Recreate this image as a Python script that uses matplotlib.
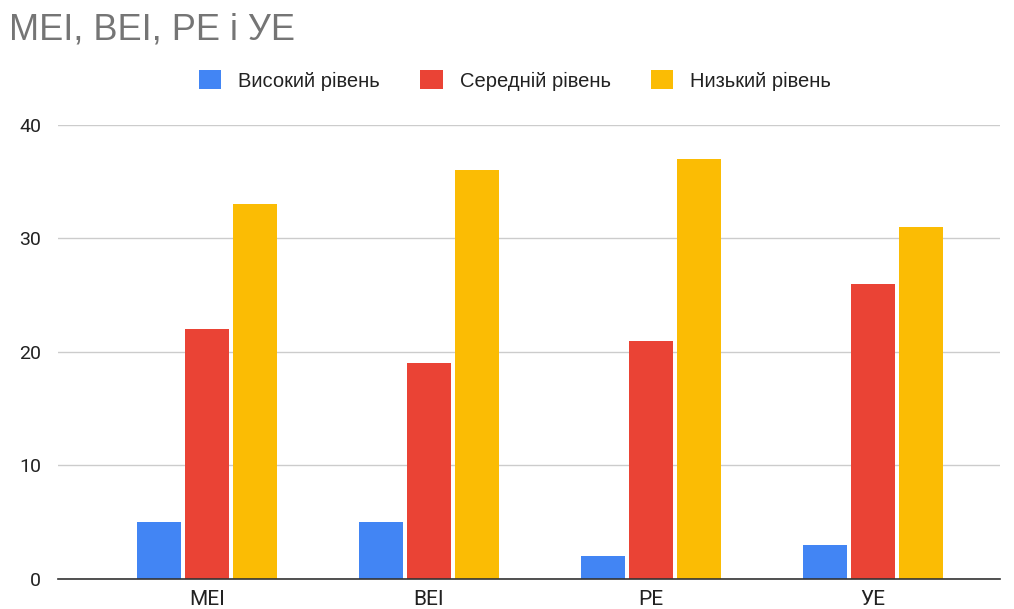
import matplotlib
matplotlib.use("Agg")
import matplotlib.pyplot as plt
import numpy as np
from matplotlib.patches import Patch

plt.rcParams["font.family"] = ["Roboto", "DejaVu Sans"]

categories = ["MEI", "BEI", "PE", "УЕ"]
series_names = ["Високий рівень", "Середній рівень", "Низький рівень"]
high = [5, 5, 2, 3]
medium = [22, 19, 21, 26]
low = [33, 36, 37, 31]
colors = ["#4285F4", "#EA4335", "#FBBC04"]

fig = plt.figure(figsize=(10.14, 6.09), dpi=100)
ax = fig.add_axes([0.0572, 0.0493, 0.9288, 0.7457])

x = np.arange(len(categories))
width = 0.198
step = 0.216
for i, (vals, c) in enumerate(zip([high, medium, low], colors)):
    ax.bar(x + (i - 1) * step, vals, width, color=c, zorder=3)

ax.set_ylim(0, 40)
ax.set_xlim(-0.67, 3.57)
ax.set_yticks([0, 10, 20, 30, 40])
ax.set_xticks(x)
ax.set_xticklabels(categories)
ax.tick_params(axis="both", length=0, labelsize=14, colors="#222222")
ax.tick_params(axis="x", labelsize=15)
ax.tick_params(axis="y", pad=12)
ax.tick_params(axis="x", pad=8)
ax.grid(axis="y", color="#CCCCCC", linewidth=1, zorder=0)
for s in ["top", "right", "left"]:
    ax.spines[s].set_visible(False)
ax.spines["bottom"].set_color("#333333")
ax.spines["bottom"].set_linewidth(1.2)
ax.spines["bottom"].set_zorder(4)

fig.text(0.009, 0.951, "MEI, BEI, PE і УЕ", fontsize=26, color="#757575",
         ha="left", va="center", family=["Liberation Sans", "DejaVu Sans"])

handles = [Patch(facecolor=c, edgecolor="none") for c in colors]
fig.legend(handles, series_names, loc="center", bbox_to_anchor=(0.508, 0.868),
           ncol=3, frameon=False, handlelength=1.1, handleheight=1.1,
           columnspacing=2.0, handletextpad=0.85, labelcolor="#222222",
           prop={"family": ["Liberation Sans", "DejaVu Sans"], "size": 14.5})

fig.savefig("out.png", dpi=100)
